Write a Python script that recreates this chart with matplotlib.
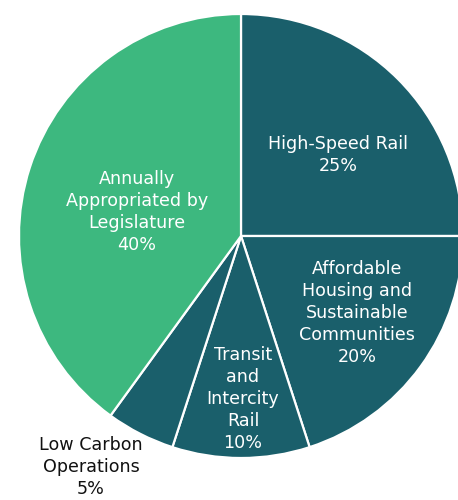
import matplotlib
matplotlib.use("Agg")
import matplotlib.pyplot as plt

categories = ["High-Speed Rail", "Affordable\nHousing and\nSustainable\nCommunities",
              "Transit\nand\nIntercity\nRail", "Low Carbon\nOperations",
              "Annually\nAppropriated by\nLegislature"]
values = [25, 20, 10, 5, 40]
colors = ["#1a5f6b", "#1a5f6b", "#1a5f6b", "#1a5f6b", "#3db87f"]
text_colors = ["white", "white", "white", "#111111", "white"]
# label anchor positions in pixel coords (x, y from top)
label_pos = [(338, 155), (357, 313), (243, 399), (91, 467), (137, 212)]

plt.rcParams['font.family'] = ['DejaVu Sans']

fig = plt.figure(figsize=(4.58, 5.0), dpi=100)
ax = fig.add_axes([0, 0, 1, 1])

ax.pie(values, colors=colors, startangle=90, counterclock=False,
       center=(241, 500 - 236), radius=222,
       wedgeprops=dict(edgecolor="white", linewidth=1.6), frame=True)
ax.set_xlim(0, 458)
ax.set_ylim(0, 500)
ax.set_axis_off()

for cat, v, (x, y), tc in zip(categories, values, label_pos, text_colors):
    ax.text(x, 500 - y, f"{cat}\n{v}%", ha="center", va="center",
            color=tc, fontsize=12.6, linespacing=1.3)

fig.savefig("out.png", dpi=100)
